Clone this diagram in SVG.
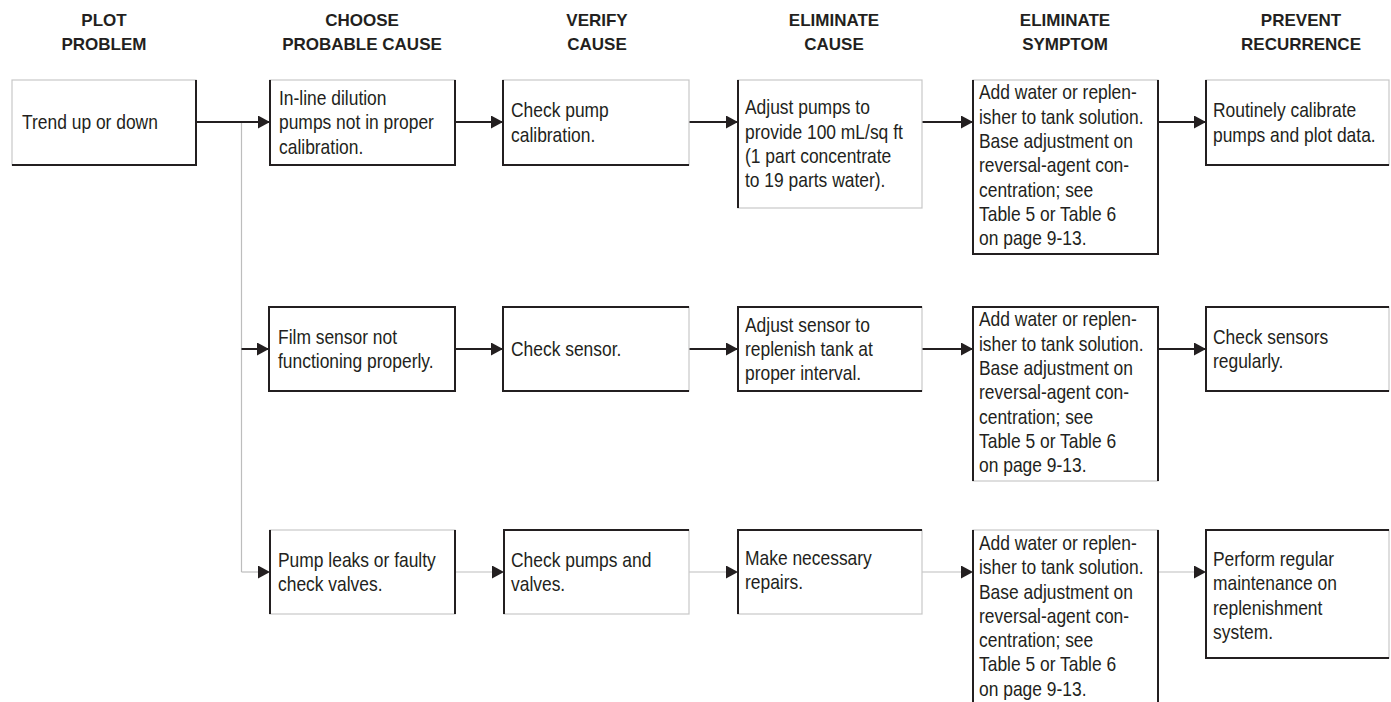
<svg xmlns="http://www.w3.org/2000/svg" width="1391" height="702" viewBox="0 0 1391 702">
<style>
.hd{font-family:"Liberation Sans",Arial,sans-serif;font-weight:bold;font-size:17px;fill:#231f20;text-anchor:middle}
.tx{font-family:"Liberation Sans",Arial,sans-serif;font-size:20.5px;fill:#231f20}
.bx{fill:#fff;stroke:#c8c8c8;stroke-width:1.2}
.dk{stroke:#231f20;stroke-width:2;fill:none}
.cb{stroke:#231f20;stroke-width:2;fill:none}
.cg{stroke:#bdbdbd;stroke-width:1.2;fill:none}
</style>
<defs>
<marker id="ah" markerUnits="userSpaceOnUse" markerWidth="13" markerHeight="13" refX="12" refY="6.5" orient="auto">
<path d="M0,0 L12,6.5 L0,13 Z" fill="#231f20"/>
</marker>
</defs>
<rect width="1391" height="702" fill="#fff"/>
<g id="headers">
<text class="hd" x="104" y="26">PLOT</text><text class="hd" x="104" y="50">PROBLEM</text>
<text class="hd" x="362" y="26">CHOOSE</text><text class="hd" x="362" y="50">PROBABLE CAUSE</text>
<text class="hd" x="597" y="26">VERIFY</text><text class="hd" x="597" y="50">CAUSE</text>
<text class="hd" x="834" y="26">ELIMINATE</text><text class="hd" x="834" y="50">CAUSE</text>
<text class="hd" x="1065" y="26">ELIMINATE</text><text class="hd" x="1065" y="50">SYMPTOM</text>
<text class="hd" x="1301" y="26">PREVENT</text><text class="hd" x="1301" y="50">RECURRENCE</text>
</g>
<g id="connectors">
<path class="cg" d="M241.5,122 V572"/>
<path class="cb" d="M196,122 H270" marker-end="url(#ah)"/>
<path class="cb" d="M455,122 H503" marker-end="url(#ah)"/>
<path class="cb" d="M689,122 H738" marker-end="url(#ah)"/>
<path class="cb" d="M922,122 H973" marker-end="url(#ah)"/>
<path class="cb" d="M1158,122 H1206" marker-end="url(#ah)"/>
<path class="cb" d="M241.5,349 H269" marker-end="url(#ah)"/>
<path class="cb" d="M455,349 H503" marker-end="url(#ah)"/>
<path class="cb" d="M689,349 H738" marker-end="url(#ah)"/>
<path class="cb" d="M922,349 H973" marker-end="url(#ah)"/>
<path class="cb" d="M1158,349 H1206" marker-end="url(#ah)"/>
<path class="cg" d="M241.5,572 H270" marker-end="url(#ah)"/>
<path class="cg" d="M455,572 H504" marker-end="url(#ah)"/>
<path class="cg" d="M689,572 H738" marker-end="url(#ah)"/>
<path class="cg" d="M922,572 H973" marker-end="url(#ah)"/>
<path class="cg" d="M1158,572 H1206" marker-end="url(#ah)"/>
</g>
<g id="n-trend">
<rect class="bx" x="12" y="80" width="184" height="85"/>
<path class="dk" d="M196,80 V165 H12"/>
<g transform="translate(22,0) scale(0.85,1)"><text class="tx" x="0" y="129.5">Trend up or down</text></g>
</g>
<g id="n-inline">
<rect class="bx" x="270" y="80" width="185" height="85"/>
<path class="dk" d="M270,80 V165 H455 V80"/>
<g transform="translate(279,0) scale(0.85,1)">
<text class="tx" x="0" y="105.2">In-line dilution</text>
<text class="tx" x="0" y="129.5">pumps not in proper</text>
<text class="tx" x="0" y="153.8">calibration.</text>
</g>
</g>
<g id="n-checkpump">
<rect class="bx" x="503" y="80" width="186" height="85"/>
<path class="dk" d="M503,80 V165 H689"/>
<g transform="translate(511,0) scale(0.85,1)">
<text class="tx" x="0" y="117.3">Check pump</text>
<text class="tx" x="0" y="141.6">calibration.</text>
</g>
</g>
<g id="n-adjustpumps">
<rect class="bx" x="738" y="80" width="184" height="128"/>
<path class="dk" d="M738,80 V208"/>
<g transform="translate(745,0) scale(0.85,1)">
<text class="tx" x="0" y="114.5">Adjust pumps to</text>
<text class="tx" x="0" y="138.8">provide 100 mL/sq ft</text>
<text class="tx" x="0" y="163.1">(1 part concentrate</text>
<text class="tx" x="0" y="187.4">to 19 parts water).</text>
</g>
</g>
<g id="n-addwater1">
<rect class="bx" x="973" y="80" width="185" height="174"/>
<path class="dk" d="M973,80 V254 H1158 V80"/>
<g transform="translate(979,0) scale(0.85,1)">
<text class="tx" x="0" y="99.5">Add water or replen-</text>
<text class="tx" x="0" y="123.8">isher to tank solution.</text>
<text class="tx" x="0" y="148.1">Base adjustment on</text>
<text class="tx" x="0" y="172.4">reversal-agent con-</text>
<text class="tx" x="0" y="196.7">centration; see</text>
<text class="tx" x="0" y="221">Table 5 or Table 6</text>
<text class="tx" x="0" y="245.3">on page 9-13.</text>
</g>
</g>
<g id="n-calibrate">
<rect class="bx" x="1206" y="80" width="183" height="85"/>
<path class="dk" d="M1206,80 V165 H1389"/>
<g transform="translate(1213,0) scale(0.85,1)">
<text class="tx" x="0" y="117.3">Routinely calibrate</text>
<text class="tx" x="0" y="141.6">pumps and plot data.</text>
</g>
</g>
<g id="n-filmsensor">
<rect class="bx" x="269" y="307" width="186" height="84"/>
<path class="dk" d="M269,307 H455 V391 H269 Z"/>
<g transform="translate(278,0) scale(0.85,1)">
<text class="tx" x="0" y="344">Film sensor not</text>
<text class="tx" x="0" y="368.3">functioning properly.</text>
</g>
</g>
<g id="n-checksensor">
<rect class="bx" x="503" y="307" width="186" height="84"/>
<path class="dk" d="M689,307 H503 V391 H689"/>
<g transform="translate(511,0) scale(0.85,1)"><text class="tx" x="0" y="356">Check sensor.</text></g>
</g>
<g id="n-adjustsensor">
<rect class="bx" x="738" y="307" width="184" height="84"/>
<path class="dk" d="M922,307 H738 V391 H922"/>
<g transform="translate(745,0) scale(0.85,1)">
<text class="tx" x="0" y="331.7">Adjust sensor to</text>
<text class="tx" x="0" y="356">replenish tank at</text>
<text class="tx" x="0" y="380.3">proper interval.</text>
</g>
</g>
<g id="n-addwater2">
<rect class="bx" x="973" y="307" width="185" height="174"/>
<path class="dk" d="M973,481 V307 H1158 V481"/>
<g transform="translate(979,0) scale(0.85,1)">
<text class="tx" x="0" y="326.5">Add water or replen-</text>
<text class="tx" x="0" y="350.8">isher to tank solution.</text>
<text class="tx" x="0" y="375.1">Base adjustment on</text>
<text class="tx" x="0" y="399.4">reversal-agent con-</text>
<text class="tx" x="0" y="423.7">centration; see</text>
<text class="tx" x="0" y="448">Table 5 or Table 6</text>
<text class="tx" x="0" y="472.3">on page 9-13.</text>
</g>
</g>
<g id="n-checksensors">
<rect class="bx" x="1206" y="307" width="183" height="84"/>
<path class="dk" d="M1389,307 H1206 V391 H1389"/>
<g transform="translate(1213,0) scale(0.85,1)">
<text class="tx" x="0" y="344">Check sensors</text>
<text class="tx" x="0" y="368.3">regularly.</text>
</g>
</g>
<g id="n-pumpleaks">
<rect class="bx" x="270" y="530" width="185" height="84"/>
<path class="dk" d="M270,530 V614 M455,530 V614"/>
<g transform="translate(278,0) scale(0.85,1)">
<text class="tx" x="0" y="567">Pump leaks or faulty</text>
<text class="tx" x="0" y="591.3">check valves.</text>
</g>
</g>
<g id="n-checkpumps">
<rect class="bx" x="504" y="530" width="185" height="84"/>
<path class="dk" d="M689,530 H504 V614"/>
<g transform="translate(511,0) scale(0.85,1)">
<text class="tx" x="0" y="567">Check pumps and</text>
<text class="tx" x="0" y="591.3">valves.</text>
</g>
</g>
<g id="n-repairs">
<rect class="bx" x="738" y="530" width="184" height="84"/>
<path class="dk" d="M922,530 H738 V614"/>
<g transform="translate(745,0) scale(0.85,1)">
<text class="tx" x="0" y="565">Make necessary</text>
<text class="tx" x="0" y="589.3">repairs.</text>
</g>
</g>
<g id="n-addwater3">
<rect class="bx" x="973" y="530" width="185" height="180"/>
<path class="dk" d="M973,702 V530 M1158,530 V702"/>
<g transform="translate(979,0) scale(0.85,1)">
<text class="tx" x="0" y="550">Add water or replen-</text>
<text class="tx" x="0" y="574.3">isher to tank solution.</text>
<text class="tx" x="0" y="598.6">Base adjustment on</text>
<text class="tx" x="0" y="622.9">reversal-agent con-</text>
<text class="tx" x="0" y="647.2">centration; see</text>
<text class="tx" x="0" y="671.5">Table 5 or Table 6</text>
<text class="tx" x="0" y="695.8">on page 9-13.</text>
</g>
</g>
<g id="n-maintenance">
<rect class="bx" x="1206" y="530" width="183" height="128"/>
<path class="dk" d="M1389,530 H1206 V658 H1389"/>
<g transform="translate(1213,0) scale(0.85,1)">
<text class="tx" x="0" y="566">Perform regular</text>
<text class="tx" x="0" y="590.3">maintenance on</text>
<text class="tx" x="0" y="614.6">replenishment</text>
<text class="tx" x="0" y="638.9">system.</text>
</g>
</g>
</svg>
